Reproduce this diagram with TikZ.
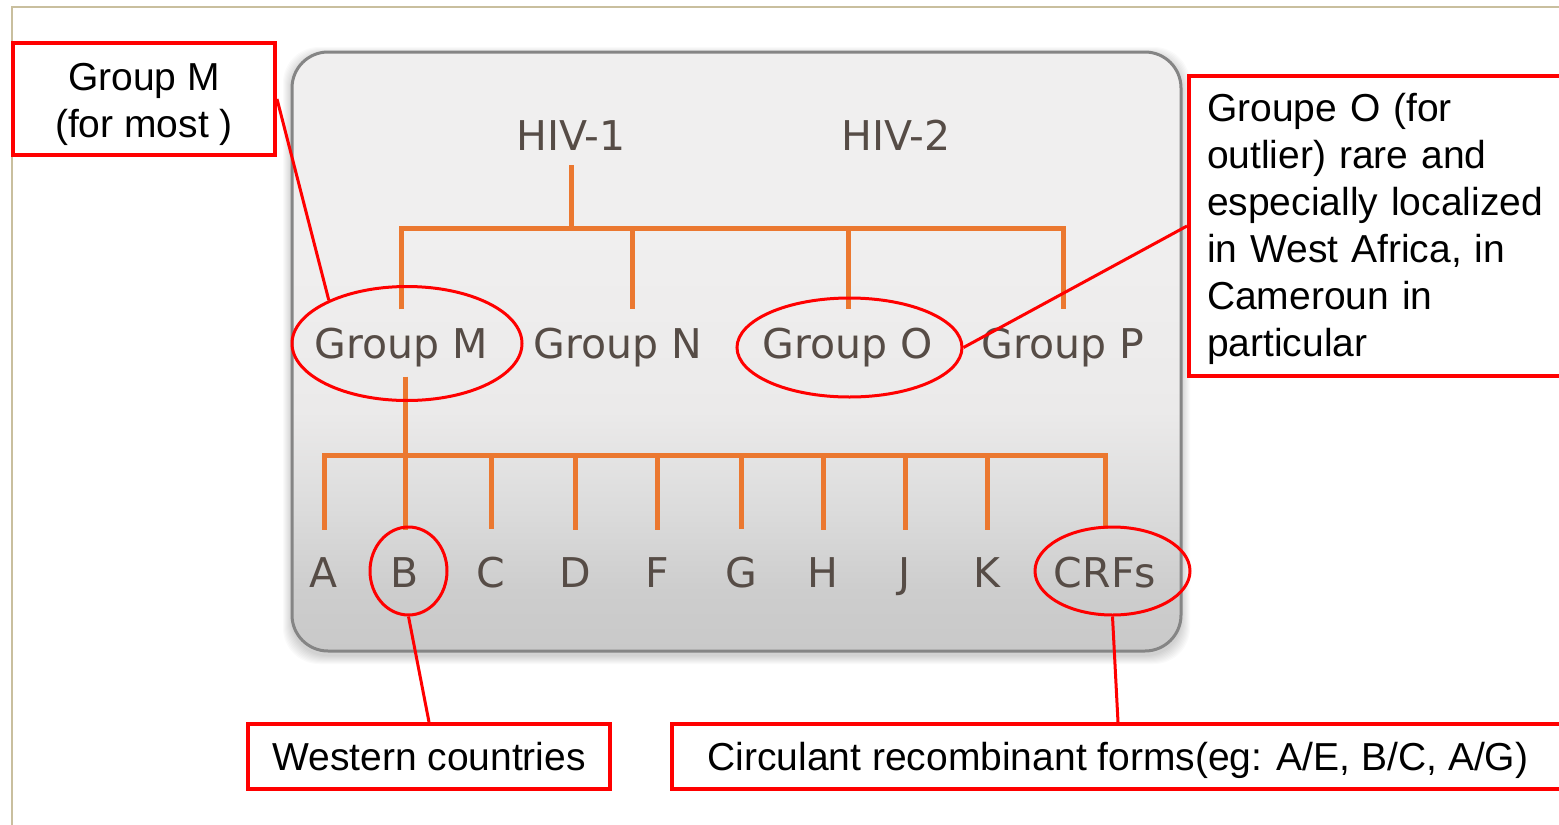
\documentclass[tikz,border=0pt]{standalone}
\usepackage{fontspec}
\setmainfont{Liberation Sans}
\newfontfamily\panelfont{DejaVu Sans}
\usetikzlibrary{shapes.geometric,calc}

\definecolor{frametan}{HTML}{C9BF9E}
\definecolor{treeorange}{HTML}{EB7830}
\definecolor{ptext}{HTML}{564C46}
\definecolor{callred}{HTML}{FF0000}
\definecolor{pedge}{HTML}{858585}
\definecolor{pbot}{HTML}{C9C9C9}
\definecolor{plow}{HTML}{CDCDCD}
\definecolor{pmid}{HTML}{DCDCDC}
\definecolor{phigh}{HTML}{EBEAEA}
\definecolor{ptop}{HTML}{F0EFEF}

% vertical fill of the panel, light at the top, grey at the bottom
\pgfdeclareverticalshading{panelfill}{100bp}{%
  color(0bp)=(pbot); color(25bp)=(pbot); color(30bp)=(plow);
  color(37bp)=(pmid); color(45bp)=(phigh); color(60bp)=(ptop);
  color(75bp)=(ptop); color(100bp)=(ptop)}

\begin{document}
\begin{tikzpicture}[x=1pt,y=-1pt,
  tree/.style={draw=treeorange, line width=5pt, line join=miter},
  plabel/.style={font=\panelfont\fontsize{41}{49}\selectfont, text=ptext,
    anchor=base, inner xsep=0pt},
  hivlabel/.style={plabel, inner ysep=15pt},
  grplabel/.style={plabel, inner ysep=18pt},
  leaflabel/.style={plabel, inner ysep=27pt},
  ring/.style={ellipse, draw=callred, line width=3pt, inner sep=0pt},
  notebox/.style={draw=callred, line width=4pt,
    font=\fontsize{39}{47}\selectfont, text=black},
  oneline/.style={notebox, text height=28pt, text depth=0pt},
  callout/.style={draw=callred, line width=3pt},
]
\useasboundingbox (0,0) rectangle (1559,825);
\clip (0,0) rectangle (1559,825);
\fill[white] (0,0) rectangle (1559,825);

% page frame
\draw[frametan, line width=2pt] (12,826) -- (12,7) -- (1560,7);

% soft shadow of the panel
\foreach \i in {1,...,9}
  \fill[black, opacity=0.018, rounded corners=36pt]
    (292-\i,52-\i+4) rectangle (1181+\i,651+\i+4);

% panel
\draw[pedge, line width=3pt, rounded corners=36pt, shading=panelfill]
  (292,52) rectangle (1181,651);

% labels inside the panel
\node[hivlabel] (hiv1) at (571,150) {HIV-1};
\node[hivlabel] (hiv2) at (896,150) {HIV-2};

\node[grplabel] (grpM) at (401,358) {Group M};
\node[grplabel] (grpN) at (618,358) {Group N};
\node[grplabel] (grpO) at (848,358) {Group O};
\node[grplabel] (grpP) at (1063,358) {Group P};

\node[leaflabel] (leafA) at (324,587) {A};
\node[leaflabel] (leafB) at (405,587) {B};
\node[leaflabel] (leafC) at (491,587) {C};
\node[leaflabel] (leafD) at (575,587) {D};
\node[leaflabel] (leafF) at (657,587) {F};
\node[leaflabel] (leafG) at (741,587) {G};
\node[leaflabel] (leafH) at (823,587) {H};
\node[leaflabel] (leafJ) at (905,587) {J};
\node[leaflabel] (leafK) at (987,587) {K};
\node[leaflabel] (leafCRF) at (1105,587) {CRFs};

% tree
\coordinate (bar1) at (571,228);
\coordinate (bar2) at (405,455);
\coordinate (dropN) at ($(grpN.north)+(14,0)$);
\coordinate (stemtop) at ($(grpM.south)+(0,-8)$);

\draw[tree] (hiv1.south) -- (bar1);
\draw[tree] (grpM.north) -- (grpM.north |- bar1) -- (grpP.north |- bar1) -- (grpP.north);
\draw[tree] (dropN |- bar1) -- (dropN);
\draw[tree] (grpO.north |- bar1) -- (grpO.north);

\draw[tree] (stemtop -| leafB.north) -- (leafB.north);
\draw[tree] (leafA.north) -- (leafA.north |- bar2) -- (leafCRF.north |- bar2) -- (leafCRF.north);
\foreach \l in {leafC,leafD,leafF,leafG,leafH,leafJ,leafK}
  \draw[tree] (\l.north |- bar2) -- (\l.north);

% highlight rings
\node[ring, minimum width=230pt, minimum height=114pt] (elM) at (407,343.5) {};
\node[ring, minimum width=225pt, minimum height=99pt] (elO) at (849.5,347.5) {};
\node[ring, minimum width=77pt, minimum height=88pt] (elB) at (408.5,571) {};
\node[ring, minimum width=155pt, minimum height=88pt] (elC) at (1112.5,571) {};

% notes
\node[notebox, minimum width=262pt, minimum height=112pt, align=center,
  text height=85pt] (boxM) at (144,99) {Group M\\(for most )};
\node[notebox, anchor=west, minimum height=300pt, text width=344pt,
  inner xsep=18pt, align=left, text height=34pt] (boxO) at (1187,226)
  {Groupe O (for\\outlier) rare and\\especially localized\\in West Africa, in\\Cameroun in\\particular};
\node[oneline, minimum width=362pt, minimum height=65pt]
  (wbox) at (429,756.5) {Western countries};
\node[oneline, minimum width=892pt, minimum height=65pt]
  (cbox) at (1118,756.5) {Circulant recombinant forms(eg: A/E, B/C, A/G)};

% callout lines
\draw[callout] (boxM.east) -- (elM.151);
\draw[callout] (boxO.west) -- (elO.east);
\draw[callout] (elB.south) -- (wbox.north);
\draw[callout] (elC.south) -- (cbox.north);
\end{tikzpicture}
\end{document}
